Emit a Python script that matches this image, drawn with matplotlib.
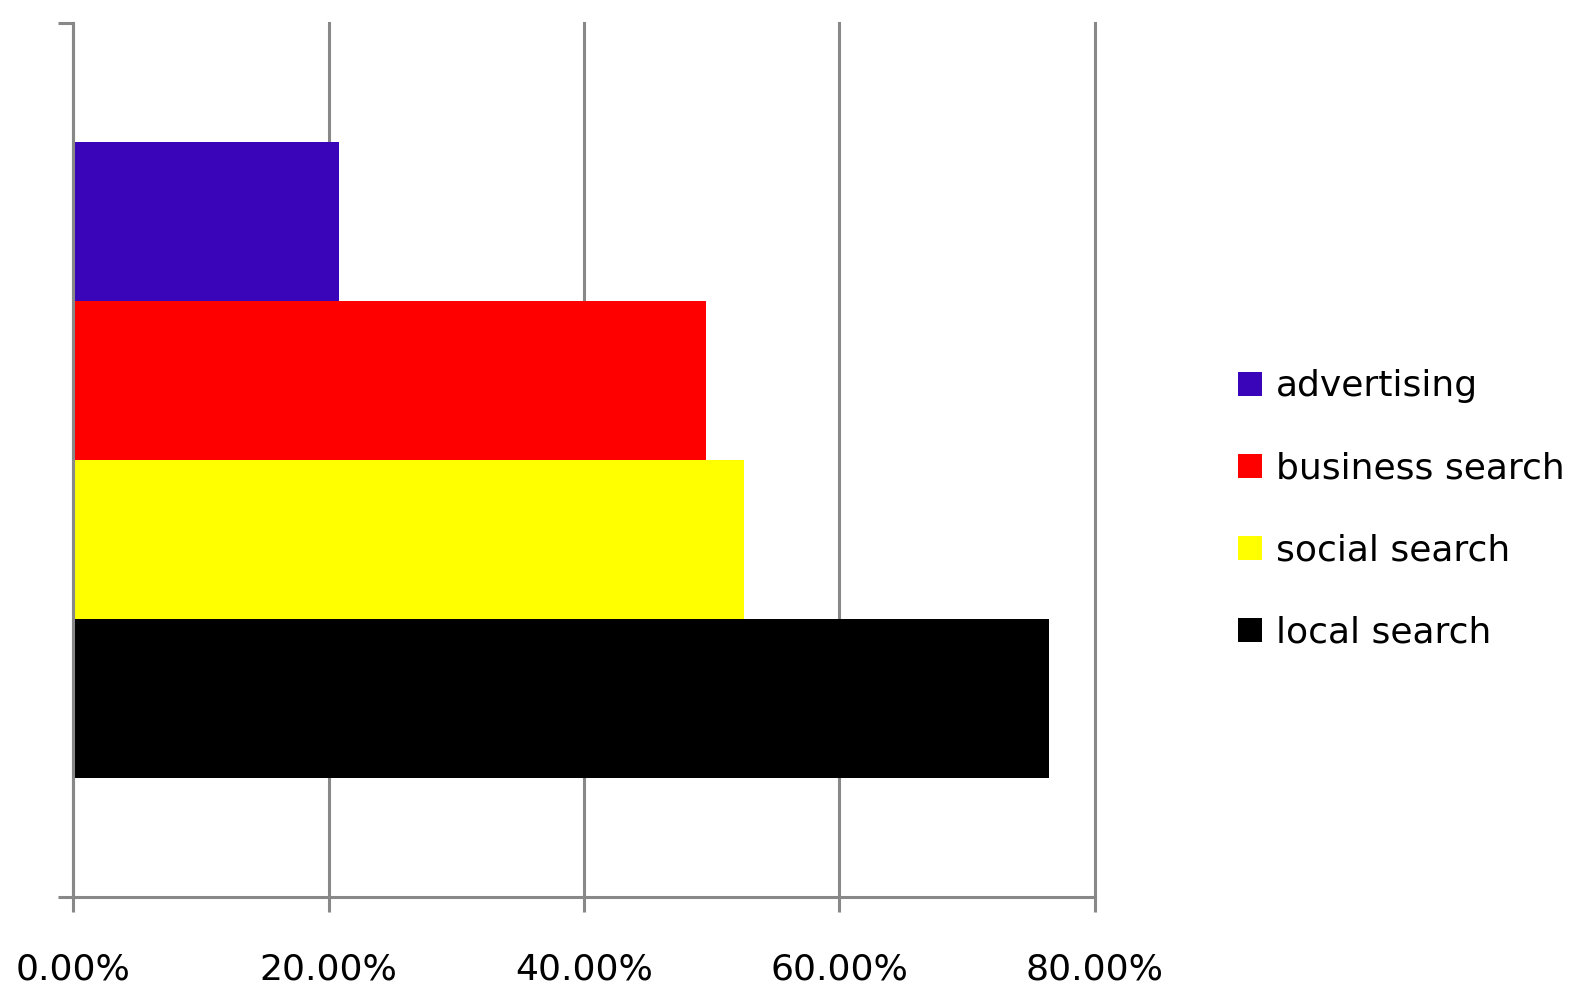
import matplotlib.pyplot as plt
import numpy as np
from matplotlib.ticker import FuncFormatter

# data
series = ['advertising', 'business search', 'social search', 'local search']
shares = [0.2083, 0.4954, 0.5250, 0.7640]
colors = ['#3A05B8', '#FF0000', '#FFFF00', '#000000']
xticks = [0.0, 0.2, 0.4, 0.6, 0.8]

grid_col = '#888888'

fig = plt.figure(figsize=(15.74, 10), dpi=100)
ax = fig.add_axes([0.0466, 0.103, 0.649, 0.874])

# one category, four series side by side, excel style gap width 150%
n = len(series)
bar_h = 1.0 / (n + 1.5)
start = 0.5 + n * bar_h / 2
for i, (name, val, col) in enumerate(zip(series, shares, colors)):
    yc = start - bar_h * (i + 0.5)
    ax.barh(yc, val, height=bar_h, color=col, label=name, zorder=1)

ax.set_xlim(0, 0.8)
ax.set_ylim(0, 1)
ax.set_xticks(xticks)
ax.xaxis.set_major_formatter(FuncFormatter(lambda v, p: '%.2f%%' % (v * 100)))
ax.set_yticks([0, 1])
ax.set_yticklabels([])

ax.grid(axis='x', color=grid_col, linewidth=2.2)
ax.set_axisbelow(True)
for gl in ax.get_xgridlines():
    gl.set_clip_on(False)
for s in ['top', 'right']:
    ax.spines[s].set_visible(False)
for s in ['left', 'bottom']:
    ax.spines[s].set_color(grid_col)
    ax.spines[s].set_linewidth(2.2)
    ax.spines[s].set_zorder(4)

ax.tick_params(axis='both', direction='out', length=11, width=2.2, color=grid_col)
ax.tick_params(axis='x', pad=29, labelsize=26, labelcolor='black')

fig.legend(loc='center left', bbox_to_anchor=(0.7865, 0.4905), frameon=False,
           fontsize=26, handlelength=0.66, handleheight=0.66, handletextpad=0.4,
           labelspacing=1.33, borderpad=0, borderaxespad=0)

fig.savefig('out.png', dpi=100)
